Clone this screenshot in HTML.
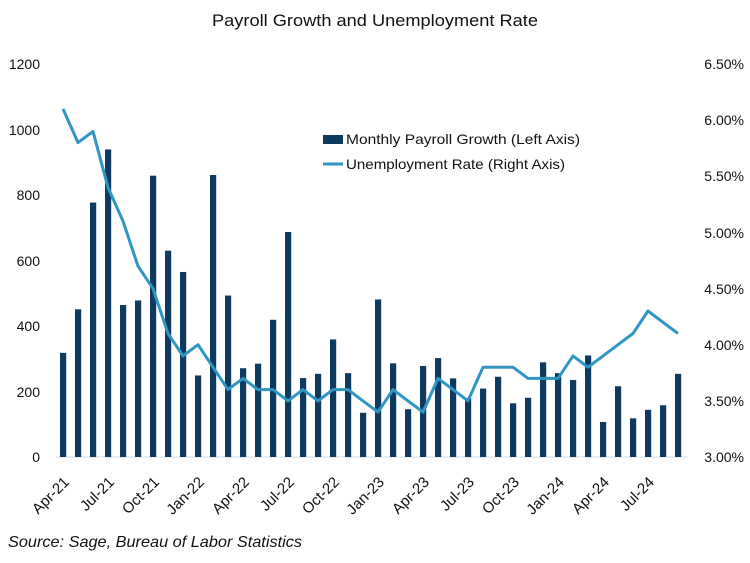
<!DOCTYPE html>
<html>
<head>
<meta charset="utf-8">
<style>
html,body{margin:0;padding:0;background:#fff;}
svg{display:block;}
text{font-family:"Liberation Sans",Arial,sans-serif;fill:#111;}
</style>
</head>
<body>
<svg width="750" height="563" viewBox="0 0 750 563" xmlns="http://www.w3.org/2000/svg">
<rect width="750" height="563" fill="#fff"/>
<text x="375" y="26" font-size="17" text-anchor="middle" textLength="326" lengthAdjust="spacingAndGlyphs">Payroll Growth and Unemployment Rate</text>

<g font-size="14" text-anchor="end">
<text x="40" y="69">1200</text>
<text x="40" y="135">1000</text>
<text x="40" y="200">800</text>
<text x="40" y="266">600</text>
<text x="40" y="331">400</text>
<text x="40" y="397">200</text>
<text x="40" y="462">0</text>
</g>
<g font-size="14" text-anchor="end">
<text x="744" y="69">6.50%</text>
<text x="744" y="125">6.00%</text>
<text x="744" y="181">5.50%</text>
<text x="744" y="238">5.00%</text>
<text x="744" y="294">4.50%</text>
<text x="744" y="350">4.00%</text>
<text x="744" y="406">3.50%</text>
<text x="744" y="462">3.00%</text>
</g>

<line x1="56" y1="457" x2="687" y2="457" stroke="#d9d9d9" stroke-width="1"/>

<g id="bars" fill="#0d3a5e"></g>
<polyline id="line" fill="none" stroke="#2f96c4" stroke-width="3" stroke-linejoin="round" points=""/>

<g id="xl" font-size="15" text-anchor="end"></g>

<rect x="323" y="135" width="20" height="9" fill="#0d3a5e"/>
<text x="346" y="144" font-size="14" textLength="234" lengthAdjust="spacingAndGlyphs">Monthly Payroll Growth (Left Axis)</text>
<line x1="323" y1="164" x2="343" y2="164" stroke="#2f96c4" stroke-width="3"/>
<text x="346" y="169" font-size="14" textLength="219" lengthAdjust="spacingAndGlyphs">Unemployment Rate (Right Axis)</text>

<text x="8" y="547" font-size="16" font-style="italic" fill="#222" textLength="294" lengthAdjust="spacingAndGlyphs">Source: Sage, Bureau of Labor Statistics</text>
</svg>
<script>
var bars=[318,451,777,939,464,478,859,630,565,249,861,493,271,285,419,687,241,254,359,256,135,481,286,146,278,302,240,180,209,245,164,181,289,256,235,310,107,216,118,144,158,254];
var un=[6.1,5.8,5.9,5.4,5.1,4.7,4.5,4.1,3.9,4.0,3.8,3.6,3.7,3.6,3.6,3.5,3.6,3.5,3.6,3.6,3.5,3.4,3.6,3.5,3.4,3.7,3.6,3.5,3.8,3.8,3.8,3.7,3.7,3.7,3.9,3.8,3.9,4.0,4.1,4.3,4.2,4.1];
var ns="http://www.w3.org/2000/svg";
var g=document.getElementById("bars");
var pts=[];
for(var i=0;i<bars.length;i++){
  var cx=63+15*i;
  var h=bars[i]*393/1200;
  var r=document.createElementNS(ns,"rect");
  r.setAttribute("x",cx-3);r.setAttribute("y",457-h);
  r.setAttribute("width",6.2);r.setAttribute("height",h);
  g.appendChild(r);
  pts.push(cx+","+(457-(un[i]-3)*393/3.5).toFixed(1));
}
document.getElementById("line").setAttribute("points",pts.join(" "));
var labs=["Apr-21","Jul-21","Oct-21","Jan-22","Apr-22","Jul-22","Oct-22","Jan-23","Apr-23","Jul-23","Oct-23","Jan-24","Apr-24","Jul-24"];
var xl=document.getElementById("xl");
for(var j=0;j<labs.length;j++){
  var x=63+45*j+7, y=483;
  var t=document.createElementNS(ns,"text");
  t.setAttribute("x",0);t.setAttribute("y",0);
  t.setAttribute("transform","translate("+x+","+y+") rotate(-45)");
  t.textContent=labs[j];
  xl.appendChild(t);
}
</script>
</body>
</html>
